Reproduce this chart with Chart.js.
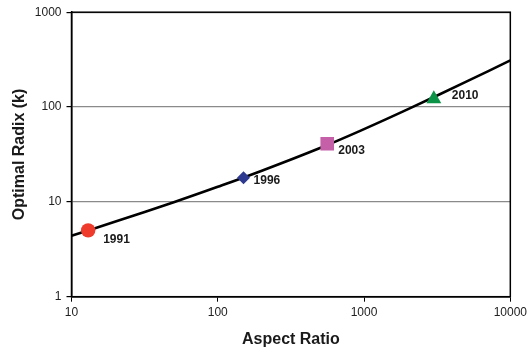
<!DOCTYPE html>
<html>
<head>
<meta charset="utf-8">
<script src="https://cdn.jsdelivr.net/npm/chart.js@4/dist/chart.umd.min.js"></script>
<style>
  html, body { margin: 0; padding: 0; background: #fff; }
  #wrap { width: 531px; height: 351px; }
</style>
</head>
<body>
<div id="wrap"><canvas id="c" width="531" height="351"></canvas></div>
<script>
// ---- data ----
const curveX = [10, 20, 50, 100, 200, 500, 1000, 2000, 5000, 10000];
const curveY = [4.4, 6.2, 9.9, 14.4, 21.3, 37, 58.5, 95, 185, 310];
const years = ['1991', '1996', '2003', '2010'];
const markerX = [13, 150, 560, 3000];
const markerY = [5, 18, 41, 122];
const xTicks = [10, 100, 1000, 10000];
const yTicks = [1, 10, 100, 1000];

// ---- styling ----
const markerColors = ['#EE3B2B', '#2E3A8F', '#C45FA8', '#0B9447'];
const markerStyles = ['circle', 'rectRot', 'rect', 'triangle'];
const markerRadius = [7.2, 6.5, 9.6, 8.6];
const labelOffsets = [[15, 9], [10, 3.5], [11, 7], [18, -3]];

const FONT = "'Liberation Sans', Arial, Helvetica, sans-serif";

const markerSets = years.map((y, i) => ({
  label: y,
  data: [{ x: markerX[i], y: markerY[i] }],
  pointStyle: markerStyles[i],
  pointRadius: markerRadius[i],
  pointBackgroundColor: markerColors[i],
  pointBorderColor: markerColors[i],
  pointBorderWidth: 0,
  showLine: false,
  order: 1
}));

const frame = {
  id: 'frame',
  afterDatasetsDraw(chart) {
    const { ctx, chartArea: a } = chart;
    ctx.save();
    ctx.strokeStyle = '#000';
    ctx.lineWidth = 1.5;
    ctx.strokeRect(a.left, a.top, a.right - a.left, a.bottom - a.top);
    ctx.restore();
  },
  afterDraw(chart) {
    const { ctx } = chart;
    const xs = chart.scales.x, ys = chart.scales.y;
    ctx.save();
    ctx.font = "bold 12px " + FONT;
    ctx.fillStyle = '#1a1a1a';
    ctx.textAlign = 'left';
    ctx.textBaseline = 'middle';
    years.forEach((y, i) => {
      const px = xs.getPixelForValue(markerX[i]);
      const py = ys.getPixelForValue(markerY[i]);
      ctx.fillText(y, px + labelOffsets[i][0], py + labelOffsets[i][1]);
    });
    ctx.restore();
  }
};

new Chart(document.getElementById('c'), {
  type: 'scatter',
  data: {
    datasets: [
      {
        label: 'curve',
        data: curveX.map((x, i) => ({ x: x, y: curveY[i] })),
        showLine: true,
        borderColor: '#000',
        borderWidth: 2.6,
        pointRadius: 0,
        tension: 0.4,
        order: 2
      },
      ...markerSets
    ]
  },
  options: {
    responsive: false,
    animation: false,
    events: [],
    layout: { padding: { left: 0, right: 19, top: 9, bottom: 0 } },
    plugins: { legend: { display: false }, tooltip: { enabled: false } },
    scales: {
      x: {
        type: 'logarithmic',
        min: 10, max: 10000,
        afterBuildTicks: (s) => { s.ticks = xTicks.map(v => ({ value: v })); },
        afterFit: (s) => { s.height = 54.3; },
        ticks: {
          callback: (v) => String(v),
          font: { family: FONT, size: 12 },
          color: '#222',
          padding: 4,
          maxRotation: 0,
          autoSkip: false
        },
        grid: { drawOnChartArea: false, drawTicks: true, tickLength: 5, color: '#000', lineWidth: 1 },
        border: { color: '#000', width: 1.5 },
        title: {
          display: true,
          text: 'Aspect Ratio',
          font: { family: FONT, size: 16, weight: 'bold' },
          color: '#1a1a1a',
          padding: { top: 0, bottom: 1.5 }
        }
      },
      y: {
        type: 'logarithmic',
        min: 1, max: 1000,
        afterBuildTicks: (s) => { s.ticks = yTicks.map(v => ({ value: v })); },
        afterFit: (s) => { s.width = 71.5; },
        ticks: {
          callback: (v) => String(v),
          font: { family: FONT, size: 12 },
          color: '#222',
          padding: 5,
          autoSkip: false
        },
        grid: {
          drawOnChartArea: true,
          drawTicks: true,
          tickLength: 5,
          color: '#8a8a8a',
          tickColor: '#000',
          lineWidth: 1.2
        },
        border: { color: '#000', width: 1.5 },
        title: {
          display: true,
          text: 'Optimal Radix (k)',
          font: { family: FONT, size: 16, weight: 'bold' },
          color: '#1a1a1a',
          padding: { top: 10, bottom: 0 }
        }
      }
    }
  },
  plugins: [frame]
});
</script>
</body>
</html>
